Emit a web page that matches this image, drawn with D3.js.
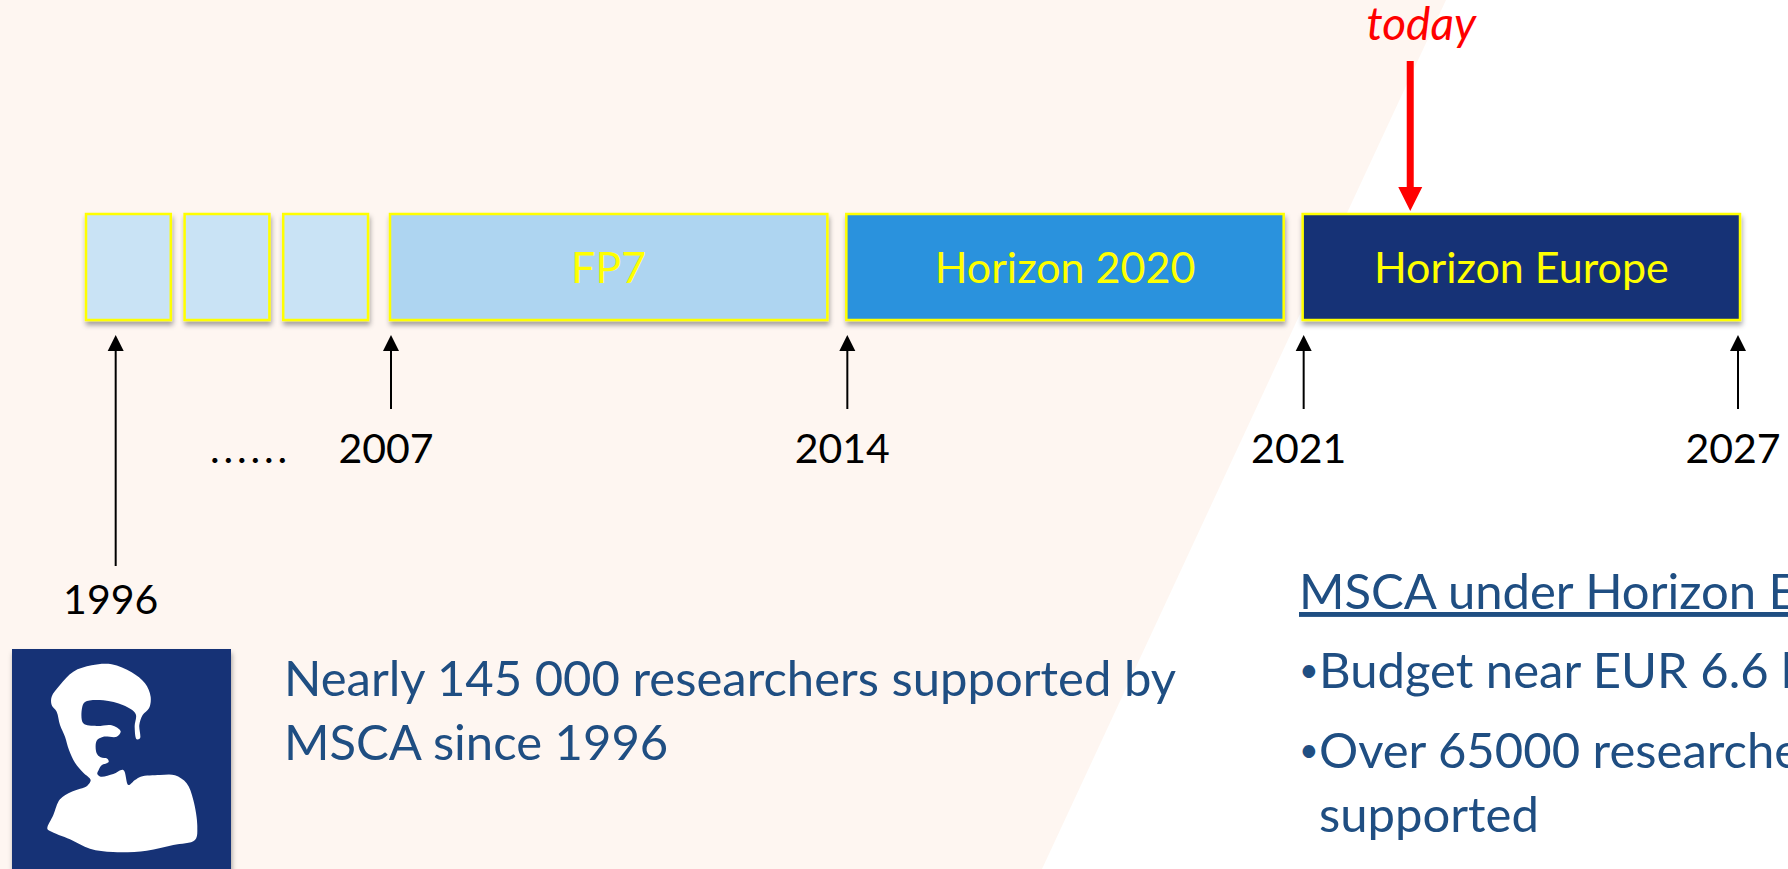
<!DOCTYPE html>
<html lang="en">
<head>
  <meta charset="utf-8">
  <title>MSCA timeline</title>
  <script src="https://d3js.org/d3.v7.min.js"></script>
  <style>
    html, body { margin: 0; padding: 0; background: #fff; }
    svg { display: block; }
    text { font-family: "Lato", "Open Sans", sans-serif; }
  </style>
</head>
<body>
  <div id="chart"></div>

  <script>
    "use strict"
    // --- data ---
    var earlyBlocks = ["FP4", "FP5", "FP6"];          // unlabelled boxes before FP7
    var programmes  = ["FP7", "Horizon 2020", "Horizon Europe"];
    var progStart   = [2007, 2014, 2021];
    var progEnd     = [2013, 2020, 2027];             // last year inclusive
    var yearTicks   = ["1996", "2007", "2014", "2021", "2027"];
    var todayYear   = 2022.65;
    var headline    = ["Nearly 145 000 researchers supported by", "MSCA since 1996"];
    var heTitle     = "MSCA under Horizon Europe";
    var heBullets   = ["Budget near EUR 6.6 billion", "Over 65000 researchers to be"];
    var heWrap      = "supported";

    var W = 1788, H = 869;
    var boxTop = 214, boxH = 106, gap = 19;

    var svg = d3.select("#chart").append("svg")
      .attr("width", W).attr("height", H);

    var defs = svg.append("defs");
    var f = defs.append("filter").attr("id", "shadow")
      .attr("x", "-5%").attr("y", "-10%").attr("width", "115%").attr("height", "140%");
    f.append("feDropShadow").attr("dx", 1).attr("dy", 4).attr("stdDeviation", 2.5)
      .attr("flood-color", "#000").attr("flood-opacity", 0.35);

    // background: peach wedge on the left, white on the right
    svg.append("rect").attr("width", W).attr("height", H).attr("fill", "#ffffff");
    svg.append("path")
      .attr("d", d3.line()([[0, 0], [1446, 0], [1042, H], [0, H]]) + "Z")
      .attr("fill", "#fef6f1");

    // scales
    var x = d3.scaleLinear().domain([2007, 2028]).range([390, 1759]);
    var early = d3.scaleBand().domain(earlyBlocks).range([86, 368]).paddingInner(0.14);
    var colour = d3.scaleOrdinal().domain(programmes)
      .range(["#aed5f1", "#2c92dd", "#153276"]);

    var progs = programmes.map(function(p, i) {
      return {name: p, start: progStart[i], end: progEnd[i]};
    });

    // early boxes
    svg.append("g").selectAll("rect")
      .data(earlyBlocks)
      .enter().append("rect")
        .attr("x", function(d) { return early(d); })
        .attr("y", boxTop)
        .attr("width", early.bandwidth())
        .attr("height", boxH)
        .attr("fill", "#c9e3f5")
        .attr("stroke", "#ffff00").attr("stroke-width", 2.5)
        .attr("filter", "url(#shadow)");

    // programme boxes
    var pg = svg.append("g").selectAll("g")
      .data(progs)
      .enter().append("g");
    pg.append("rect")
      .attr("x", function(d) { return x(d.start); })
      .attr("y", boxTop)
      .attr("width", function(d) { return x(d.end + 1) - x(d.start) - gap; })
      .attr("height", boxH)
      .attr("fill", function(d) { return colour(d.name); })
      .attr("stroke", "#ffff00").attr("stroke-width", 2.5)
      .attr("filter", "url(#shadow)");
    pg.append("text")
      .attr("x", function(d) { return (x(d.start) + x(d.end + 1) - gap) / 2; })
      .attr("y", boxTop + 69)
      .attr("text-anchor", "middle")
      .attr("font-size", 43)
      .attr("fill", "#ffff00")
      .text(function(d) { return d.name; });

    // year arrows
    var lastEnd = d3.max(progEnd);
    function tickX(label) {
      var yr = +label;
      if (yr < progStart[0]) return early(earlyBlocks[0]) + early.bandwidth() * 0.35;
      if (yr === lastEnd) return x(lastEnd + 1) - gap - 2;
      return x(yr) + 1;
    }
    var ticks = svg.append("g").selectAll("g")
      .data(yearTicks)
      .enter().append("g")
        .attr("transform", function(d) { return "translate(" + tickX(d) + ",0)"; });
    ticks.append("line")
      .attr("y1", 348)
      .attr("y2", function(d, i) { return i === 0 ? 566 : 409; })
      .attr("stroke", "#000").attr("stroke-width", 2);
    ticks.append("path")
      .attr("d", "M0,335L8,351L-8,351Z")
      .attr("fill", "#000");
    ticks.append("text")
      .attr("x", -5)
      .attr("y", function(d, i) { return i === 0 ? 614 : 463; })
      .attr("text-anchor", "middle")
      .attr("font-size", 41)
      .attr("fill", "#000")
      .text(function(d) { return d; });

    svg.append("text")
      .attr("x", early(earlyBlocks[1]) + early.bandwidth() * 0.3)
      .attr("y", 463)
      .attr("font-size", 41)
      .attr("letter-spacing", 3.8)
      .attr("fill", "#000")
      .text("......");

    // today marker
    var tx = x(todayYear);
    var today = svg.append("g").attr("transform", "translate(" + tx + ",0)");
    today.append("line")
      .attr("y1", 61).attr("y2", 192)
      .attr("stroke", "#ff0000").attr("stroke-width", 7);
    today.append("path")
      .attr("d", "M-12,187L12,187L0,211Z")
      .attr("fill", "#ff0000");
    today.append("text")
      .attr("x", 11).attr("y", 40)
      .attr("text-anchor", "middle")
      .attr("font-size", 46)
      .attr("font-style", "italic")
      .attr("fill", "#ff0000")
      .text("today");

    // MSCA logo (navy tile with white bust)
    var logo = svg.append("g");
    logo.append("rect")
      .attr("x", 12).attr("y", 649).attr("width", 219).attr("height", 240)
      .attr("fill", "#153276")
      .attr("filter", "url(#shadow)");
    var bust = [[155,170],[180,135],[220,95],[275,76],[335,73],[395,97],[435,130],[452,170],
      [447,205],[428,225],[418,255],[420,295],[410,298],[404,260],[407,222],[370,196],[310,181],
      [255,186],[246,205],[250,250],[290,258],[335,256],[362,274],[350,290],[310,290],[290,302],
      [290,340],[302,352],[322,356],[326,366],[305,376],[296,390],[292,402],[302,410],[340,402],
      [370,390],[385,435],[405,420],[422,410],[480,405],[525,406],[560,430],[580,480],[592,560],
      [585,600],[520,615],[440,632],[340,636],[270,626],[210,598],[150,573],[142,566],[160,525],
      [180,478],[215,455],[262,437],[272,420],[250,398],[225,368],[207,330],[195,290],[180,255],
      [170,215],[155,195]];
    logo.append("path")
      .attr("transform", "translate(0,640) scale(0.3333)")
      .attr("d", d3.line().curve(d3.curveCatmullRomClosed.alpha(0.5))(bust))
      .attr("fill", "#ffffff");

    // text blocks
    var blue = "#1f4e82";
    var fs = 49;
    svg.append("g").selectAll("text")
      .data(headline)
      .enter().append("text")
        .attr("x", 284)
        .attr("y", function(d, i) { return 696 + i * 64; })
        .attr("font-size", fs)
        .attr("fill", blue)
        .text(function(d) { return d; });

    svg.append("text")
      .attr("x", 1299).attr("y", 609)
      .attr("font-size", fs)
      .attr("fill", blue)
      .attr("text-decoration", "underline")
      .text(heTitle);

    var bl = svg.append("g").selectAll("g")
      .data(heBullets)
      .enter().append("g")
        .attr("transform", function(d, i) { return "translate(1299," + (688 + i * 80) + ")"; });
    bl.append("text")
      .attr("y", -6)
      .attr("font-size", 34).attr("fill", blue)
      .text("•");
    bl.append("text")
      .attr("x", 20)
      .attr("font-size", fs).attr("fill", blue)
      .text(function(d) { return d; });

    svg.append("text")
      .attr("x", 1319).attr("y", 832)
      .attr("font-size", fs).attr("fill", blue)
      .text(heWrap);
  </script>
</body>
</html>
